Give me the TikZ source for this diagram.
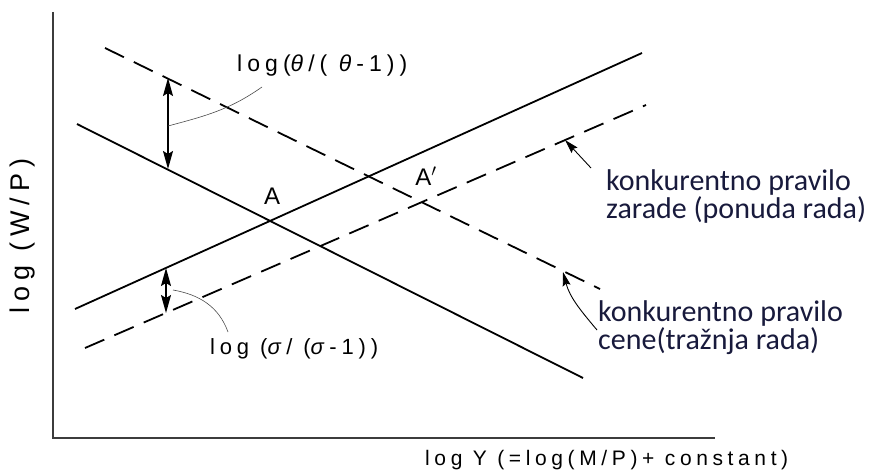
\documentclass[tikz,border=0pt]{standalone}
\usepackage{fontspec}
\usetikzlibrary{arrows.meta}
\setmainfont{Liberation Sans}
\newfontfamily\letterfont[LetterSpace=22]{Liberation Sans}
\newfontfamily\notefont{Carlito}
\definecolor{notecolor}{RGB}{24,26,60}
\definecolor{axisgray}{RGB}{60,60,60}

\begin{document}
\begin{tikzpicture}[x=1pt, y=1pt, >={Stealth[length=18pt, width=10pt, inset=3pt]},
    axis/.style={line width=2pt, axisgray},
    rule/.style={line width=1.8pt},
    dashrule/.style={line width=1.8pt, dash pattern=on 21pt off 11pt},
    gap/.style={<->, line width=1.4pt},
    leader/.style={line width=0.6pt, black!70},
    pointer/.style={->, line width=0.9pt, >={Stealth[length=14pt, width=8pt, inset=2pt]}},
    lettering/.style={font=\letterfont\fontsize{21}{26}\selectfont, inner sep=0pt},
    note/.style={font=\notefont\fontsize{30}{28}\selectfont, text=notecolor, align=left, inner sep=0pt}]
    \useasboundingbox (0,0) rectangle (869,-473);

    % axes
    \coordinate (ytop) at (53,-12);
    \coordinate (origin) at (53,-438);
    \coordinate (xend) at (715,-438);
    \draw[axis] (ytop) -- (origin) -- (xend);
    \node[lettering, rotate=90, font=\letterfont\fontsize{27}{30}\selectfont] (ylab) at (23,-236) {log (W/P)};
    \node[lettering, anchor=west] (xlab) at (425,-460) {log Y (=log(M/P)+ constant)};

    % price rule (solid) and wage rule (solid)
    \coordinate (p0) at (77,-124);
    \coordinate (p1) at (583,-378);
    \coordinate (w0) at (75,-309);
    \coordinate (w1) at (642,-53);
    \draw[rule] (p0) -- (p1);
    \draw[rule] (w0) -- (w1);

    % competitive rules (dashed)
    \coordinate (pc0) at (105,-48);
    \coordinate (pc1) at (600,-289);
    \coordinate (wc0) at (85,-348);
    \coordinate (wc1) at (646,-105);
    \draw[dashrule] (pc0) -- (pc1);
    \draw[dashrule] (wc0) -- (wc1);

    \node[lettering, font=\letterfont\fontsize{24}{26}\selectfont] (A) at (272,-196) {A};
    \node[lettering, font=\letterfont\fontsize{24}{26}\selectfont] (Ap) at (426,-176) {A$'$};

    % markups
    \coordinate (th0) at (168,-78);
    \coordinate (th1) at (168,-169);
    \draw[gap] (th0) -- (th1);
    \coordinate (thm) at (168,-126);
    \coordinate (thl) at (262,-87);
    \draw[leader] (thm) to[out=15, in=215] (thl);
    \node[lettering, anchor=west, font=\letterfont\fontsize{23}{26}\selectfont] (thlab) at (237,-66) {log(\textit{θ}/( \textit{θ}-1))};

    \coordinate (sg0) at (166,-268);
    \coordinate (sg1) at (166,-313);
    \draw[gap] (sg0) -- (sg1);
    \coordinate (sgm) at (173,-290);
    \coordinate (sgl) at (228,-332);
    \draw[leader] (sgm) to[out=-10, in=110] (sgl);
    \node[lettering, anchor=west, font=\letterfont\fontsize{22}{26}\selectfont] (sglab) at (210,-349) {log (\textit{σ}/ (\textit{σ}-1))};

    % notes
    \node[note, anchor=north west] (wagenote) at (606,-169) {konkurentno pravilo\\zarade (ponuda rada)};
    \node[note, anchor=north west] (pricenote) at (598,-300) {konkurentno pravilo\\cene(tražnja rada)};
    \coordinate (wt) at (591,-168);
    \coordinate (wh) at (565,-140);
    \draw[pointer] (wt) -- (wh);
    \coordinate (pt) at (597,-330);
    \coordinate (ph) at (563,-272);
    \draw[pointer] (pt) to[out=130, in=-75] (ph);
\end{tikzpicture}
\end{document}
